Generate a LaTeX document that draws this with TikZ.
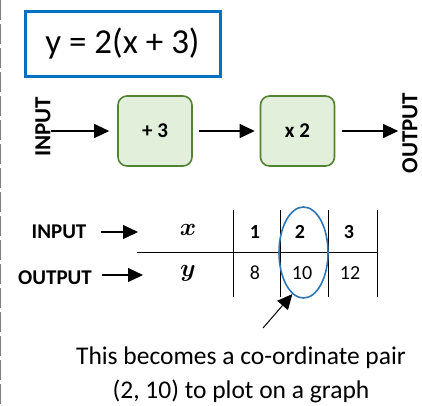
\documentclass[tikz,border=0pt]{standalone}
\usepackage{fontspec}
\setmainfont{Carlito}
\usepackage{xcolor}
\definecolor{eqblue}{HTML}{0070C0}
\definecolor{ringblue}{HTML}{2E75B6}
\definecolor{stepfill}{HTML}{E2EFDA}
\definecolor{stepedge}{HTML}{548235}
\definecolor{pagegray}{HTML}{7F7F7F}
\usepackage{tikz}
\usetikzlibrary{arrows.meta,positioning,shapes.geometric,calc}

\tikzset{
  opbox/.style={draw=stepedge,fill=stepfill,line width=1.6pt,rounded corners=9pt,
    minimum width=74pt,minimum height=70pt,font=\fontsize{21}{24}\selectfont\bfseries},
  sidelbl/.style={rotate=90,inner sep=0pt,font=\fontsize{23}{26}\selectfont\bfseries},
  rowlbl/.style={inner sep=0pt,font=\fontsize{21}{24}\selectfont\bfseries},
  cell/.style={inner sep=0pt,font=\fontsize{20}{24}\selectfont},
  varcell/.style={inner sep=0pt,font=\fontsize{28}{30}\selectfont\boldmath},
  arr/.style={-{Triangle[length=15pt,width=14pt]},line width=1.1pt},
}

\begin{document}
\begin{tikzpicture}[x=1pt,y=-1pt]
\useasboundingbox (0,0) rectangle (422,405);
% page edge
\draw[pagegray,line width=1.3pt,dash pattern=on 20pt off 4pt] (0.7,0) -- (0.7,405);

% the rule
\node[draw=eqblue,line width=3pt,minimum width=195pt,minimum height=65pt,
  font=\fontsize{35}{40}\selectfont] (eq) at (122.5,43.5) {y = 2(x + 3)};

% function machine
\node[sidelbl] (inL) at (43,127) {INPUT};
\node[opbox] (add) at (155,131) {+ 3};
\node[opbox] (mul) at (297.5,131) {x 2};
\node[sidelbl] (outL) at (410,133) {OUTPUT};
\coordinate (inA) at (51,131);
\draw[arr] (inA) -- ([xshift=-8pt]add.west);
\draw[arr,shorten <=6pt] (add) -- ([xshift=-5pt]mul.west);
\draw[arr,shorten <=7pt] (mul.east) -- ([xshift=-4pt]outL.north |- mul);

% table of values
\node[rowlbl] (inT) at (59,232) {INPUT};
\node[rowlbl] (outT) at (55,278) {OUTPUT};
\coordinate (inE) at (138,232);
\coordinate (outE) at (143,275);
\draw[arr] ([xshift=14pt]inT.east |- inE) -- (inE);
\draw[arr] ([xshift=10pt]outT.east |- outE) -- (outE);
\node[varcell] (xv) at (188,230) {$x$};
\node[varcell] (yv) at (188,273) {$y$};
\node[cell,font=\fontsize{20}{24}\selectfont\bfseries] (x1) at (255,232) {1};
\node[cell,font=\fontsize{20}{24}\selectfont\bfseries] (x2) at (300,232) {2};
\node[cell,font=\fontsize{20}{24}\selectfont\bfseries] (x3) at (349,232) {3};
\node[cell] (y1) at (255,273) {8};
\node[cell] (y2) at (302,273) {10};
\node[cell] (y3) at (350,273) {12};
\foreach \xx in {233,280,328,377}
  \draw[line width=1pt] (\xx,210) -- (\xx,297);
\draw[line width=1pt] (137,252) -- (377,252);

% the pair
\node[draw=ringblue,ellipse,line width=1.6pt,minimum width=49pt,minimum height=91pt] (ring) at (303.5,252.5) {};
\node[align=center,inner sep=0pt,font=\fontsize{25.5}{34}\selectfont] (cap) at (241,375)
  {This becomes a co-ordinate pair\\(2, 10) to plot on a graph};
\coordinate (tail) at (263,328);
\draw[arr,line width=1pt] (tail) -- (ring.255);
\end{tikzpicture}
\end{document}
